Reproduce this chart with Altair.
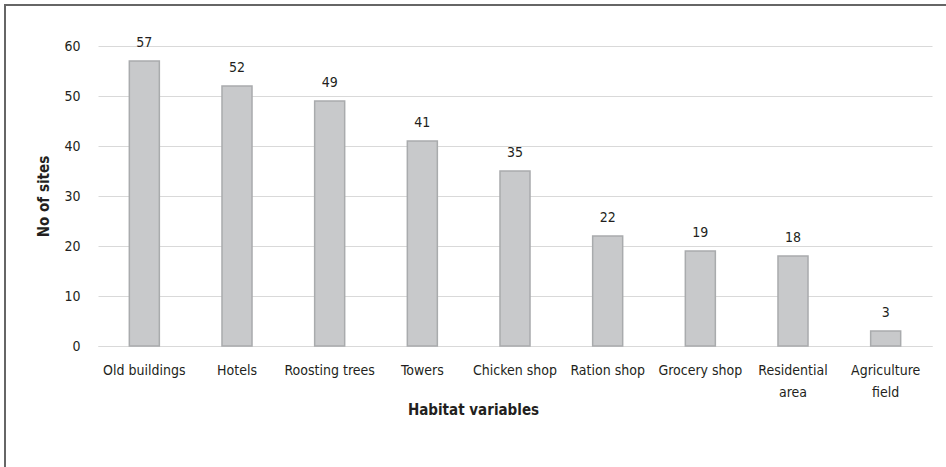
import altair as alt
import pandas as pd

categories = ["Old buildings", "Hotels", "Roosting trees", "Towers", "Chicken shop",
              "Ration shop", "Grocery shop", "Residential area", "Agriculture field"]
values = [57, 52, 49, 41, 35, 22, 19, 18, 3]

df = pd.DataFrame({"habitat": categories, "sites": values})

FONT = "'DejaVu Sans Condensed', 'Liberation Sans', sans-serif"
TXT = "#231f20"
FS = 14

x_enc = alt.X("habitat:N", sort=categories,
              scale=alt.Scale(paddingInner=0.676, paddingOuter=0.338),
              axis=alt.Axis(title="Habitat variables", labelAngle=0, labelFontSize=FS,
                            labelPadding=17, labelLineHeight=22, labelColor=TXT,
                            labelExpr="length(datum.label) > 15 ? split(datum.label, ' ') : datum.label",
                            ticks=False, domainColor="#d9d9d9", domainWidth=1,
                            titleFontSize=15, titleFontWeight="bold", titleColor=TXT,
                            titleX=375, titleY=63, titleAlign="center", titleBaseline="middle"))

y_enc = alt.Y("sites:Q", scale=alt.Scale(domain=[0, 60], nice=False),
              axis=alt.Axis(title="No of sites", values=[0, 10, 20, 30, 40, 50, 60],
                            labelFontSize=FS, labelPadding=18, labelColor=TXT,
                            ticks=False, domain=False, grid=True, gridColor="#d9d9d9",
                            gridWidth=1, titleFontSize=15, titleFontWeight="bold",
                            titleColor=TXT, titlePadding=12))

bars = alt.Chart(df).mark_bar(color="#c8c9cb", stroke="#a9abad", strokeWidth=1.5).encode(
    x=x_enc, y=y_enc)

labels = alt.Chart(df).mark_text(fontSize=FS, dy=-14, baseline="alphabetic",
                                 color=TXT, font=FONT).encode(
    x=alt.X("habitat:N", sort=categories), y="sites:Q", text="sites:Q")

border = alt.Chart(df).mark_rect(fill=None, stroke="#666666", strokeWidth=2, clip=False).encode(
    x=alt.value(-93), x2=alt.value(860), y=alt.value(-41), y2=alt.value(440))

chart = alt.layer(bars, labels, border).properties(
    width=834, height=300,
    autosize=alt.AutoSizeParams(type="none"),
    padding={"left": 98, "top": 46, "right": 14, "bottom": 121},
).configure(font=FONT).configure_view(stroke=None).configure_axis(
    labelFont=FONT, titleFont=FONT)

chart.save("out.html", embed_options={"renderer": "svg", "actions": False})
